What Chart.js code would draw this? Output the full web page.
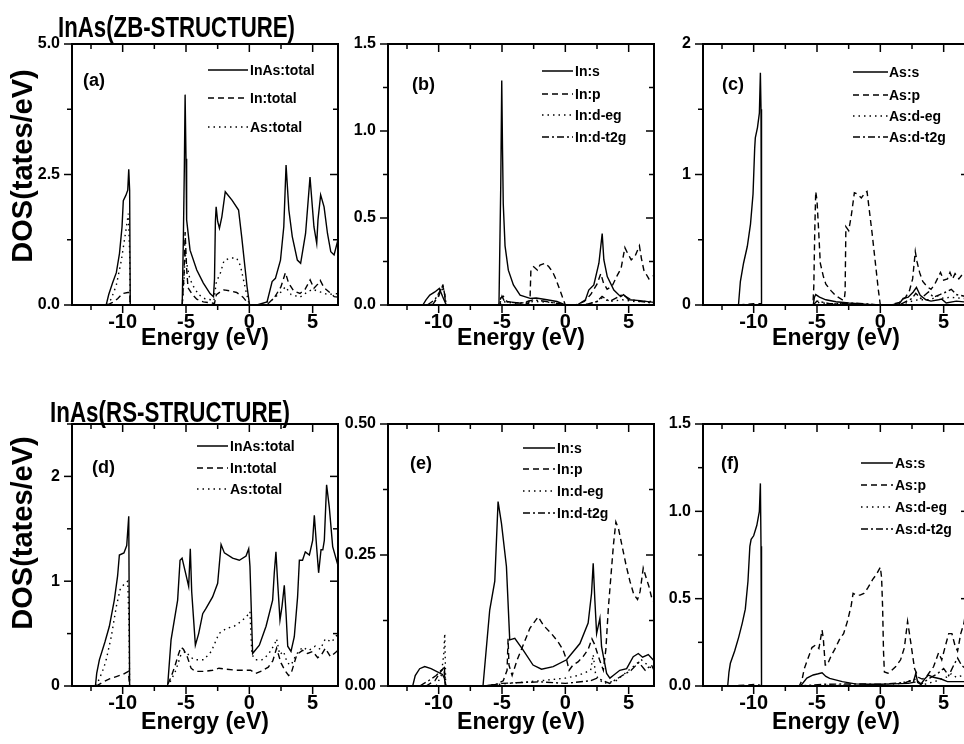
<!DOCTYPE html>
<html>
<head>
<meta charset="utf-8">
<script src="https://cdn.jsdelivr.net/npm/chart.js@4.4.1/dist/chart.umd.min.js"></script>
<style>
  html, body { margin: 0; padding: 0; background: #fff; overflow: hidden; }
  body { width: 964px; height: 744px; position: relative; }
  canvas { position: absolute; }
</style>
</head>
<body>
<canvas id="pa" width="346" height="360" style="left:0;top:0"></canvas>
<canvas id="pb" width="346" height="360" style="left:316px;top:0"></canvas>
<canvas id="pc" width="346" height="360" style="left:631px;top:0"></canvas>
<canvas id="pd" width="346" height="362" style="left:0;top:380px"></canvas>
<canvas id="pe" width="346" height="362" style="left:316px;top:380px"></canvas>
<canvas id="pf" width="346" height="362" style="left:631px;top:380px"></canvas>
<script>
// energy axis ticks (eV), shared by all panels
const xTicks = [-12.5, -10, -7.5, -5, -2.5, 0, 2.5, 5];

// (a) ZB total DOS  [E, DOS]
const aTotal = [[-11.3,0],[-11.1,0.2],[-10.8,0.42],[-10.5,0.62],[-10.25,0.99],[-10.05,1.5],[-9.95,2.0],[-9.75,2.1],[-9.6,2.2],[-9.52,2.6],[-9.45,2.2],[-9.4,0],[-5.3,0],[-5.21,1.25],[-5.13,2.65],[-5.07,4.03],[-5.0,2.8],[-4.95,1.63],[-4.68,1.05],[-4.15,0.67],[-3.63,0.42],[-3.1,0.22],[-2.83,0.16],[-2.75,0.5],[-2.68,1.6],[-2.62,1.88],[-2.5,1.6],[-2.36,1.47],[-2.17,1.69],[-1.9,2.17],[-1.37,2.01],[-0.85,1.82],[-0.6,1.3],[-0.18,0.35],[0.02,0],[0.6,0],[1.4,0.06],[1.8,0.45],[2.06,0.51],[2.46,0.86],[2.72,1.5],[2.9,2.68],[3.12,1.82],[3.39,1.31],[3.79,0.86],[4.05,0.8],[4.18,0.99],[4.44,1.37],[4.79,2.45],[5.1,1.5],[5.32,1.18],[5.42,1.63],[5.63,2.11],[5.9,1.88],[6.17,1.37],[6.43,1.02],[6.69,0.96],[7.0,1.25]];
const aIn = [[-11.2,0],[-10.8,0.05],[-10.4,0.12],[-10.0,0.22],[-9.6,0.24],[-9.45,0.24],[-9.4,0],[-5.3,0],[-5.15,0.6],[-5.07,1.4],[-4.95,0.7],[-4.84,0.33],[-4.5,0.2],[-4.15,0.11],[-3.63,0.06],[-3.0,0.04],[-2.75,0.03],[-2.6,0.2],[-2.3,0.25],[-2.0,0.29],[-1.5,0.27],[-1.0,0.24],[-0.5,0.15],[0,0],[0.8,0],[1.5,0.03],[2.0,0.15],[2.5,0.35],[2.85,0.62],[3.1,0.42],[3.5,0.27],[4.0,0.22],[4.4,0.3],[4.8,0.48],[5.1,0.32],[5.4,0.4],[5.6,0.47],[5.9,0.33],[6.3,0.25],[6.7,0.16],[7,0.15]];
const aAs = [[-11.2,0],[-10.9,0.12],[-10.5,0.38],[-10.1,0.86],[-9.7,1.5],[-9.55,1.75],[-9.45,1.0],[-9.4,0],[-5.3,0],[-5.15,0.5],[-5.07,1.0],[-4.95,0.8],[-4.7,0.5],[-4.4,0.35],[-4.0,0.2],[-3.5,0.12],[-3.0,0.1],[-2.8,0.08],[-2.6,0.45],[-2.3,0.6],[-2.0,0.85],[-1.5,0.9],[-1.0,0.9],[-0.7,0.75],[-0.3,0.3],[0,0],[0.8,0],[1.8,0.1],[2.5,0.25],[2.85,0.35],[3.3,0.2],[4.0,0.15],[4.6,0.25],[5.0,0.3],[5.6,0.25],[6.2,0.2],[7,0.22]];

// (b) ZB In partial DOS
const bS = [[-11.25,0],[-11.0,0.03],[-10.7,0.057],[-10.3,0.075],[-9.95,0.095],[-9.7,0.05],[-9.4,0],[-5.24,0],[-5.16,0.39],[-5.1,0.68],[-5.02,1.29],[-4.96,0.9],[-4.9,0.58],[-4.76,0.34],[-4.5,0.2],[-4.1,0.115],[-3.57,0.057],[-2.78,0.038],[-2.3,0.04],[-1.45,0.03],[-0.66,0.02],[0,0],[0.93,0],[1.59,0.03],[1.85,0.086],[2.25,0.115],[2.65,0.24],[2.91,0.41],[3.04,0.26],[3.31,0.163],[3.83,0.086],[4.37,0.048],[4.6,0.06],[5.0,0.03],[5.9,0.025],[7,0.015]];
const bP = [[-10.5,0],[-10.0,0.05],[-9.7,0.11],[-9.55,0.08],[-9.45,0],[-5.25,0],[-5.1,0.04],[-4.9,0.05],[-4.6,0.02],[-3.5,0.01],[-2.9,0.01],[-2.78,0.05],[-2.72,0.2],[-2.5,0.22],[-2.2,0.2],[-2.0,0.23],[-1.6,0.24],[-1.3,0.22],[-1.0,0.19],[-0.75,0.15],[-0.4,0.08],[-0.1,0.02],[0,0],[0.8,0],[1.5,0.02],[2.0,0.06],[2.5,0.12],[2.8,0.18],[3.0,0.13],[3.3,0.09],[3.7,0.11],[4.1,0.17],[4.4,0.21],[4.7,0.33],[4.9,0.3],[5.2,0.26],[5.5,0.28],[5.85,0.34],[6.0,0.27],[6.2,0.2],[6.6,0.15],[7,0.17]];
const bEg = [[-10.6,0],[-10.1,0.04],[-9.75,0.1],[-9.55,0.07],[-9.45,0],[-5.2,0],[-5.0,0.02],[-4.0,0.01],[-2.5,0.02],[-1.0,0.015],[0,0],[1.5,0],[2.5,0.02],[2.9,0.04],[3.5,0.02],[4.5,0.03],[5.5,0.02],[7,0.02]];
const bT2g = [[-10.9,0],[-10.3,0.03],[-9.9,0.08],[-9.65,0.11],[-9.5,0.05],[-9.4,0],[-5.2,0],[-5.0,0.05],[-4.8,0.02],[-3.5,0.01],[-2.5,0.03],[-1.5,0.02],[0,0],[1.5,0],[2.5,0.02],[2.9,0.05],[3.5,0.02],[4.5,0.06],[5.2,0.03],[6.0,0.02],[7,0.01]];

// (c) ZB As partial DOS
const cS = [[-11.2,0],[-11.05,0.18],[-10.8,0.32],[-10.5,0.45],[-10.25,0.62],[-10.05,0.85],[-9.92,1.2],[-9.87,1.28],[-9.7,1.36],[-9.55,1.47],[-9.47,1.78],[-9.42,1.5],[-9.38,0],[-5.3,0],[-5.2,0.06],[-5.1,0.08],[-4.8,0.06],[-4.3,0.04],[-3.5,0.025],[-2.5,0.015],[-1,0.005],[0,0],[0.8,0],[1.5,0.01],[1.8,0.05],[2.2,0.06],[2.6,0.1],[2.85,0.135],[3.15,0.075],[3.6,0.04],[4.0,0.03],[4.6,0.04],[4.85,0.045],[5.2,0.015],[6.0,0.03],[7,0.02]];
const cP = [[-11.2,0],[-10,0.01],[-9.45,0.01],[-9.4,0],[-5.32,0],[-5.25,0.15],[-5.18,0.55],[-5.1,0.87],[-5.0,0.8],[-4.87,0.57],[-4.74,0.32],[-4.5,0.22],[-4.3,0.16],[-3.9,0.11],[-3.5,0.07],[-3.0,0.04],[-2.85,0.04],[-2.78,0.1],[-2.72,0.6],[-2.5,0.57],[-2.3,0.68],[-2.05,0.86],[-1.8,0.85],[-1.5,0.82],[-1.2,0.86],[-1.05,0.87],[-0.9,0.75],[-0.65,0.55],[-0.4,0.33],[-0.15,0.11],[0,0],[0.8,0],[1.5,0.02],[2.0,0.06],[2.3,0.11],[2.55,0.2],[2.76,0.41],[2.9,0.33],[3.1,0.25],[3.35,0.18],[3.7,0.14],[4.0,0.12],[4.3,0.16],[4.6,0.22],[4.75,0.25],[5.0,0.19],[5.3,0.2],[5.5,0.25],[5.7,0.2],[5.9,0.24],[6.2,0.2],[6.6,0.25],[7,0.3]];
const cEg = [[-5.3,0],[-5.0,0.02],[-4,0.01],[-2,0.01],[0,0],[1.5,0],[2.5,0.03],[3,0.04],[4,0.04],[4.5,0.07],[5,0.05],[5.5,0.06],[6.5,0.05],[7,0.05]];
const cT2g = [[-5.3,0],[-5.0,0.03],[-4,0.01],[-2,0.015],[0,0],[1.5,0],[2.5,0.05],[2.8,0.09],[3.2,0.05],[3.8,0.1],[4.2,0.06],[4.7,0.08],[5.2,0.1],[5.6,0.12],[6,0.08],[7,0.06]];

// (d) RS total DOS
const dTotal = [[-12.15,0],[-12.05,0.12],[-11.84,0.25],[-11.4,0.42],[-11.05,0.57],[-10.66,0.82],[-10.4,1.05],[-10.26,1.25],[-9.9,1.27],[-9.68,1.34],[-9.52,1.62],[-9.45,0],[-6.45,0],[-6.18,0.44],[-5.66,0.82],[-5.47,1.2],[-5.31,1.22],[-5.0,1.06],[-4.79,0.95],[-4.66,1.31],[-4.55,0.9],[-4.26,0.39],[-4.0,0.5],[-3.68,0.69],[-3.42,0.74],[-2.9,0.85],[-2.5,0.98],[-2.23,1.35],[-1.97,1.27],[-1.32,1.22],[-0.79,1.2],[-0.26,1.24],[-0.05,1.31],[0.05,1.14],[0.26,0.31],[0.79,0.39],[1.32,0.57],[1.84,0.82],[1.97,1.08],[2.1,1.28],[2.24,0.98],[2.42,0.63],[2.58,0.76],[2.76,0.96],[2.9,0.69],[3.03,0.38],[3.29,0.33],[3.55,0.47],[3.81,0.85],[3.95,1.2],[4.2,1.2],[4.42,1.28],[4.74,1.25],[5.0,1.39],[5.13,1.63],[5.31,1.33],[5.47,1.08],[5.66,1.3],[5.8,1.3],[5.92,1.39],[6.1,1.92],[6.31,1.71],[6.58,1.33],[7,1.15]];
const dIn = [[-12.1,0],[-11.5,0.04],[-11.0,0.07],[-10.5,0.09],[-10.0,0.11],[-9.55,0.14],[-9.45,0],[-6.5,0],[-6.2,0.08],[-5.9,0.18],[-5.6,0.3],[-5.4,0.37],[-5.2,0.35],[-4.9,0.28],[-4.6,0.17],[-4.3,0.14],[-3.5,0.14],[-2.9,0.15],[-2.4,0.17],[-1.8,0.16],[-1.0,0.15],[-0.3,0.15],[0.1,0.15],[0.5,0.12],[0.9,0.14],[1.5,0.18],[1.85,0.24],[2.15,0.36],[2.5,0.22],[2.8,0.15],[3.1,0.1],[3.3,0.12],[3.75,0.3],[4.2,0.34],[4.6,0.31],[5.0,0.33],[5.4,0.27],[5.7,0.3],[6.0,0.36],[6.4,0.28],[6.8,0.32],[7,0.34]];
const dAs = [[-12.1,0],[-11.8,0.08],[-11.5,0.17],[-11.3,0.25],[-10.9,0.47],[-10.5,0.76],[-10.2,0.92],[-9.9,0.97],[-9.6,1.0],[-9.5,0.6],[-9.45,0],[-6.5,0],[-6.2,0.05],[-5.8,0.15],[-5.4,0.3],[-5.0,0.33],[-4.7,0.28],[-4.3,0.25],[-3.6,0.25],[-3.0,0.33],[-2.4,0.5],[-1.8,0.55],[-1.2,0.57],[-0.6,0.62],[-0.1,0.68],[0.05,0.71],[0.2,0.3],[0.5,0.25],[1.0,0.25],[1.5,0.3],[2.0,0.4],[2.15,0.45],[2.4,0.3],[2.7,0.33],[3.0,0.22],[3.3,0.2],[3.7,0.3],[4.2,0.37],[4.7,0.34],[5.2,0.38],[5.6,0.35],[6.0,0.45],[6.5,0.42],[7,0.5]];

// (e) RS In partial DOS
const eS = [[-12.05,0],[-11.85,0.02],[-11.5,0.033],[-11.1,0.037],[-10.6,0.033],[-10.1,0.027],[-9.7,0.022],[-9.55,0.015],[-9.45,0],[-6.5,0],[-5.97,0.145],[-5.57,0.2],[-5.31,0.352],[-5.04,0.31],[-4.65,0.228],[-4.39,0.088],[-3.99,0.091],[-3.34,0.069],[-2.55,0.04],[-1.88,0.032],[-0.96,0.037],[0.1,0.05],[1.15,0.081],[1.8,0.12],[2.07,0.177],[2.2,0.234],[2.33,0.164],[2.47,0.1],[2.73,0.129],[2.86,0.075],[3.26,0.024],[3.52,0.015],[3.78,0.02],[4.3,0.03],[4.84,0.033],[5.36,0.056],[5.76,0.062],[6.1,0.055],[6.55,0.06],[7,0.048]];
const eP = [[-11,0],[-10.3,0.01],[-9.9,0.025],[-9.6,0.035],[-9.45,0],[-6.4,0],[-5.5,0.003],[-4.9,0.01],[-4.6,0.03],[-4.52,0.09],[-4.45,0.04],[-4.2,0.02],[-3.8,0.05],[-3.3,0.08],[-2.8,0.11],[-2.15,0.132],[-1.7,0.115],[-1.1,0.1],[-0.6,0.085],[-0.2,0.07],[0.1,0.05],[0.3,0.03],[0.6,0.04],[1.0,0.046],[1.4,0.056],[1.8,0.07],[2.1,0.09],[2.3,0.08],[2.5,0.065],[2.7,0.05],[3.0,0.03],[3.2,0.07],[3.4,0.15],[3.6,0.21],[3.8,0.27],[3.99,0.313],[4.2,0.3],[4.5,0.265],[4.8,0.23],[5.1,0.2],[5.4,0.175],[5.7,0.165],[5.9,0.18],[6.15,0.225],[6.4,0.205],[6.6,0.19],[6.8,0.17],[7,0.16]];
const eEg = [[-10.2,0],[-9.8,0.02],[-9.6,0.06],[-9.52,0.1],[-9.47,0.04],[-9.45,0],[-6.4,0],[-4.5,0.005],[-2,0.01],[0,0.015],[1,0.02],[2,0.03],[2.2,0.06],[2.4,0.02],[3,0.005],[4,0.01],[4.5,0.02],[5,0.03],[5.5,0.04],[6,0.05],[6.5,0.04],[7,0.03]];
const eT2g = [[-11.5,0],[-10.8,0.01],[-10.2,0.02],[-9.8,0.03],[-9.55,0.035],[-9.45,0],[-6.4,0],[-5,0.005],[-2,0.008],[0,0.005],[2,0.01],[2.5,0.015],[3.5,0.005],[4.5,0.02],[5.2,0.03],[5.8,0.045],[6.3,0.03],[6.8,0.04],[7,0.03]];

// (f) RS As partial DOS
const fS = [[-12.05,0],[-11.95,0.08],[-11.84,0.13],[-11.5,0.2],[-11.18,0.28],[-10.9,0.36],[-10.66,0.44],[-10.45,0.6],[-10.3,0.8],[-10.2,0.84],[-10.0,0.86],[-9.75,0.92],[-9.55,1.0],[-9.47,1.16],[-9.42,0.8],[-9.38,0],[-6.3,0],[-5.8,0.045],[-5.3,0.063],[-4.9,0.07],[-4.6,0.076],[-4.3,0.055],[-4.0,0.044],[-3.0,0.025],[-2.0,0.012],[-1,0.01],[0,0.01],[1,0.012],[2.2,0.015],[2.6,0.02],[2.8,0.073],[2.95,0.02],[3.2,0.01],[3.5,0.04],[3.8,0.063],[4.2,0.05],[4.8,0.04],[5.3,0.025],[7,0.025]];
const fP = [[-12,0],[-10.5,0.005],[-9.7,0.01],[-9.4,0],[-6.4,0],[-6.2,0.03],[-6.0,0.1],[-5.7,0.16],[-5.4,0.22],[-5.1,0.235],[-4.85,0.215],[-4.6,0.32],[-4.5,0.27],[-4.35,0.12],[-4.2,0.12],[-3.9,0.17],[-3.6,0.21],[-3.2,0.27],[-2.9,0.3],[-2.6,0.37],[-2.3,0.46],[-2.15,0.53],[-1.9,0.52],[-1.6,0.52],[-1.3,0.53],[-1.0,0.56],[-0.6,0.61],[-0.3,0.64],[0.0,0.68],[0.1,0.62],[0.18,0.45],[0.25,0.2],[0.32,0.08],[0.6,0.073],[0.9,0.09],[1.2,0.11],[1.6,0.15],[1.9,0.22],[2.15,0.37],[2.3,0.3],[2.5,0.2],[2.7,0.1],[3.0,0.05],[3.3,0.04],[3.6,0.05],[3.9,0.08],[4.2,0.11],[4.6,0.19],[4.85,0.15],[5.1,0.22],[5.4,0.3],[5.65,0.3],[5.9,0.23],[6.1,0.2],[6.35,0.3],[6.6,0.36],[6.8,0.45],[7,0.55]];
const fEg = [[-6.4,0],[-2,0.005],[1,0.005],[2.3,0.03],[2.8,0.02],[3.5,0.01],[4.5,0.03],[5.2,0.05],[5.6,0.07],[6,0.05],[6.5,0.06],[7,0.05]];
const fT2g = [[-6.4,0],[-4.5,0.01],[-2,0.012],[0,0.01],[2,0.02],[2.8,0.04],[3.2,0.01],[4,0.05],[4.5,0.07],[5,0.1],[5.4,0.06],[5.8,0.12],[6.1,0.16],[6.4,0.12],[6.7,0.1],[7,0.13]];

const FONT_N = "'Liberation Sans Narrow', 'Arial Narrow', 'Liberation Sans', sans-serif";
const FONT_R = "'Liberation Sans', Arial, sans-serif";
const DASH = { solid: [], dash: [6, 4], dot: [1.5, 4], dashdot: [7, 3, 2, 3] };

// frame, inward/outward ticks, legend, panel tag and headings
const deco = {
  id: 'deco',
  afterDraw(chart, args, o) {
    const { ctx, chartArea: a, scales: { x, y } } = chart;
    ctx.save();
    ctx.strokeStyle = '#000';
    ctx.fillStyle = '#000';
    ctx.lineWidth = 2;
    ctx.strokeRect(a.left, a.top, a.right - a.left, a.bottom - a.top);
    ctx.lineWidth = 1.5;
    const seg = (x1, y1, x2, y2) => { ctx.beginPath(); ctx.moveTo(x1, y1); ctx.lineTo(x2, y2); ctx.stroke(); };
    x.ticks.forEach(t => {
      const px = x.getPixelForValue(t.value);
      const len = t.value % 5 === 0 ? 8 : 5;
      seg(px, a.bottom, px, a.bottom + len);
      seg(px, a.top, px, a.top + len);
    });
    y.ticks.forEach(t => {
      const py = y.getPixelForValue(t.value);
      const len = o.yMajor.includes(t.value) ? 8 : 5;
      seg(a.left - len, py, a.left, py);
      seg(a.right - len, py, a.right, py);
    });

    // legend
    const lg = o.legend;
    ctx.font = 'bold 14px ' + FONT_R;
    ctx.textBaseline = 'middle';
    ctx.textAlign = 'left';
    chart.data.datasets.forEach((ds, i) => {
      const ry = a.top + lg.rows[i];
      ctx.lineWidth = 1.5;
      ctx.setLineDash(ds.borderDash);
      seg(a.left + lg.x1, ry, a.left + lg.x2, ry);
      ctx.setLineDash([]);
      ctx.fillText(ds.label, a.left + lg.tx, ry + 1);
    });

    // panel tag
    ctx.font = 'bold 18px ' + FONT_R;
    ctx.fillText(o.tag[0], a.left + o.tag[1], a.top + o.tag[2]);

    if (o.heading) {
      ctx.font = 'bold 29px ' + FONT_N;
      ctx.textBaseline = 'alphabetic';
      const w = ctx.measureText(o.heading.text).width;
      ctx.save();
      ctx.translate(o.heading.x, o.heading.y);
      ctx.scale(o.heading.w / w, 1);
      ctx.fillText(o.heading.text, 0, 0);
      ctx.restore();
    }
    if (o.ytitle) {
      ctx.save();
      ctx.translate(o.ytitle.x, o.ytitle.y);
      ctx.rotate(-Math.PI / 2);
      ctx.font = 'bold 29px ' + FONT_N;
      ctx.textAlign = 'center';
      ctx.textBaseline = 'middle';
      ctx.fillText('DOS(tates/eV)', 0, 0);
      ctx.restore();
    }
    ctx.restore();
  }
};

function makePanel(id, p) {
  new Chart(document.getElementById(id), {
    type: 'line',
    data: {
      datasets: p.series.map(s => ({
        label: s[0],
        data: s[1].map(([e, v]) => ({ x: e, y: v })),
        borderColor: '#000',
        borderWidth: 1.4,
        borderDash: DASH[s[2]],
        pointRadius: 0,
        tension: 0,
        fill: false
      }))
    },
    options: {
      responsive: false,
      animation: false,
      events: [],
      layout: { padding: { top: 44, right: 8, left: 0, bottom: p.pb } },
      plugins: { legend: { display: false }, tooltip: { enabled: false }, deco: p.deco },
      scales: {
        x: {
          type: 'linear', min: -14, max: 7,
          afterBuildTicks: s => { s.ticks = xTicks.map(v => ({ value: v })); },
          afterFit: s => { s.height = p.xh; },
          grid: { display: false, drawTicks: true, tickLength: 7 },
          border: { display: false },
          ticks: {
            autoSkip: false, maxRotation: 0, padding: -2, color: '#000',
            font: { family: FONT_N, size: 20, weight: 'bold' },
            callback: v => (v % 5 === 0 ? String(v) : '')
          },
          title: {
            display: true, text: 'Energy (eV)', color: '#000',
            font: { family: FONT_N, size: 23, weight: 'bold' },
            padding: { top: 0, bottom: p.tpb }
          }
        },
        y: {
          type: 'linear', min: 0, max: p.ymax,
          afterBuildTicks: s => { s.ticks = p.yTicks.map(v => ({ value: v })); },
          afterFit: s => { s.width = 72; },
          grid: { display: false, drawTicks: true, tickLength: 7 },
          border: { display: false },
          ticks: {
            autoSkip: false, padding: 5, color: '#000',
            font: { family: FONT_R, size: 16, weight: 'bold' },
            callback: v => (p.deco.yMajor.includes(v) ? v.toFixed(p.yDec) : '')
          }
        }
      }
    },
    plugins: [deco]
  });
}

makePanel('pa', {
  xh: 45, pb: 10, tpb: -2, ymax: 5, yDec: 1, yTicks: [0, 1.25, 2.5, 3.75, 5],
  series: [['InAs:total', aTotal, 'solid'], ['In:total', aIn, 'dash'], ['As:total', aAs, 'dot']],
  deco: { yMajor: [0, 2.5, 5], tag: ['(a)', 11, 37],
    legend: { x1: 136, x2: 176, tx: 178, rows: [26, 54, 83] },
    heading: { text: 'InAs(ZB-STRUCTURE)', x: 58, y: 37, w: 237 },
    ytitle: { x: 24, y: 166 } }
});
makePanel('pb', {
  xh: 45, pb: 10, tpb: -2, ymax: 1.5, yDec: 1, yTicks: [0, 0.25, 0.5, 0.75, 1, 1.25, 1.5],
  series: [['In:s', bS, 'solid'], ['In:p', bP, 'dash'], ['In:d-eg', bEg, 'dot'], ['In:d-t2g', bT2g, 'dashdot']],
  deco: { yMajor: [0, 0.5, 1, 1.5], tag: ['(b)', 24, 41],
    legend: { x1: 154, x2: 185, tx: 187, rows: [27, 50, 71, 93] } }
});
makePanel('pc', {
  xh: 45, pb: 10, tpb: -2, ymax: 2, yDec: 0, yTicks: [0, 0.5, 1, 1.5, 2],
  series: [['As:s', cS, 'solid'], ['As:p', cP, 'dash'], ['As:d-eg', cEg, 'dot'], ['As:d-t2g', cT2g, 'dashdot']],
  deco: { yMajor: [0, 1, 2], tag: ['(c)', 19, 41],
    legend: { x1: 150, x2: 185, tx: 186, rows: [28, 51, 72, 93] } }
});
makePanel('pd', {
  xh: 48, pb: 8, tpb: -2, ymax: 2.5, yDec: 0, yTicks: [0, 0.5, 1, 1.5, 2, 2.5],
  series: [['InAs:total', dTotal, 'solid'], ['In:total', dIn, 'dash'], ['As:total', dAs, 'dot']],
  deco: { yMajor: [0, 1, 2], tag: ['(d)', 20, 44],
    legend: { x1: 125, x2: 156, tx: 158, rows: [22, 44, 65] },
    heading: { text: 'InAs(RS-STRUCTURE)', x: 50, y: 42, w: 240 },
    ytitle: { x: 24, y: 153 } }
});
makePanel('pe', {
  xh: 48, pb: 8, tpb: -2, ymax: 0.5, yDec: 2, yTicks: [0, 0.125, 0.25, 0.375, 0.5],
  series: [['In:s', eS, 'solid'], ['In:p', eP, 'dash'], ['In:d-eg', eEg, 'dot'], ['In:d-t2g', eT2g, 'dashdot']],
  deco: { yMajor: [0, 0.25, 0.5], tag: ['(e)', 22, 40],
    legend: { x1: 135, x2: 167, tx: 169, rows: [24, 45, 67, 89] } }
});
makePanel('pf', {
  xh: 48, pb: 8, tpb: -2, ymax: 1.5, yDec: 1, yTicks: [0, 0.25, 0.5, 0.75, 1, 1.25, 1.5],
  series: [['As:s', fS, 'solid'], ['As:p', fP, 'dash'], ['As:d-eg', fEg, 'dot'], ['As:d-t2g', fT2g, 'dashdot']],
  deco: { yMajor: [0, 0.5, 1, 1.5], tag: ['(f)', 18, 40],
    legend: { x1: 158, x2: 190, tx: 192, rows: [39, 61, 83, 105] } }
});
</script>
</body>
</html>
